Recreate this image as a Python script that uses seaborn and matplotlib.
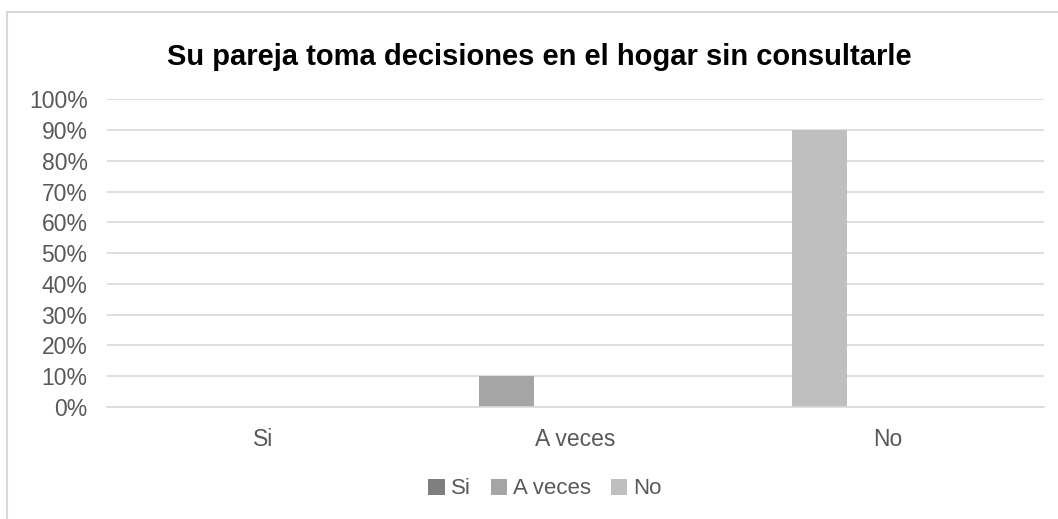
import matplotlib
matplotlib.use("Agg")
import matplotlib.pyplot as plt
import pandas as pd
import seaborn as sb
from matplotlib.patches import Patch
from matplotlib.ticker import PercentFormatter

categorias = ["Si", "A veces", "No"]
series = ["Si", "A veces", "No"]
valores = [0, 10, 90]
colores = ["#7f7f7f", "#a5a5a5", "#bfbfbf"]
titulo = "Su pareja toma decisiones en el hogar sin consultarle"

data = pd.DataFrame({"categoria": categorias, "serie": series, "valor": valores})

sb.set_style("white")
plt.rcParams["font.family"] = ["Liberation Sans", "DejaVu Sans"]

fig = plt.figure(figsize=(10.58, 5.19), dpi=100)
ax = fig.add_axes([0.1011, 0.2158, 0.8857, 0.5925])

# chart area border (left and top only are visible)
fig.add_artist(plt.Line2D([0.0066, 0.0066], [0, 0.977], transform=fig.transFigure,
                          color="#d9d9d9", lw=1.5))
fig.add_artist(plt.Line2D([0.0066, 1], [0.977, 0.977], transform=fig.transFigure,
                          color="#d9d9d9", lw=1.5))

sb.barplot(data=data, x="categoria", y="valor", hue="serie", order=categorias,
           hue_order=series, palette=colores, dodge=False, width=0.176,
           linewidth=0, legend=False, ax=ax)

# bars sit left of the category centre, like the excel original
for p in ax.patches:
    p.set_x(p.get_x() - 0.22)

ax.set_xlim(-0.5, 2.5)
ax.set_ylim(0, 100)
ax.set_yticks(range(0, 101, 10))
ax.yaxis.set_major_formatter(PercentFormatter(decimals=0))
ax.grid(axis="y", color="#d9d9d9", lw=1.2)
ax.set_axisbelow(True)
for s in ["top", "right", "left"]:
    ax.spines[s].set_visible(False)
ax.spines["bottom"].set_color("#d9d9d9")
ax.spines["bottom"].set_linewidth(1.2)
ax.tick_params(axis="both", length=0, labelsize=16.5, colors="#595959")
ax.tick_params(axis="y", pad=14)
ax.tick_params(axis="x", pad=15)
ax.set_xlabel("")
ax.set_ylabel("")

fig.text(0.51, 0.891, titulo, ha="center", va="center", fontsize=21,
         fontweight="bold", color="black")

handles = [Patch(facecolor=c, edgecolor="none") for c in colores]
fig.legend(handles, series, loc="center", bbox_to_anchor=(0.515, 0.058), ncol=3,
           frameon=False, fontsize=16, labelcolor="#595959", handlelength=0.75,
           handleheight=0.75, handletextpad=0.25, columnspacing=0.9)

fig.savefig("out.png", dpi=100)
